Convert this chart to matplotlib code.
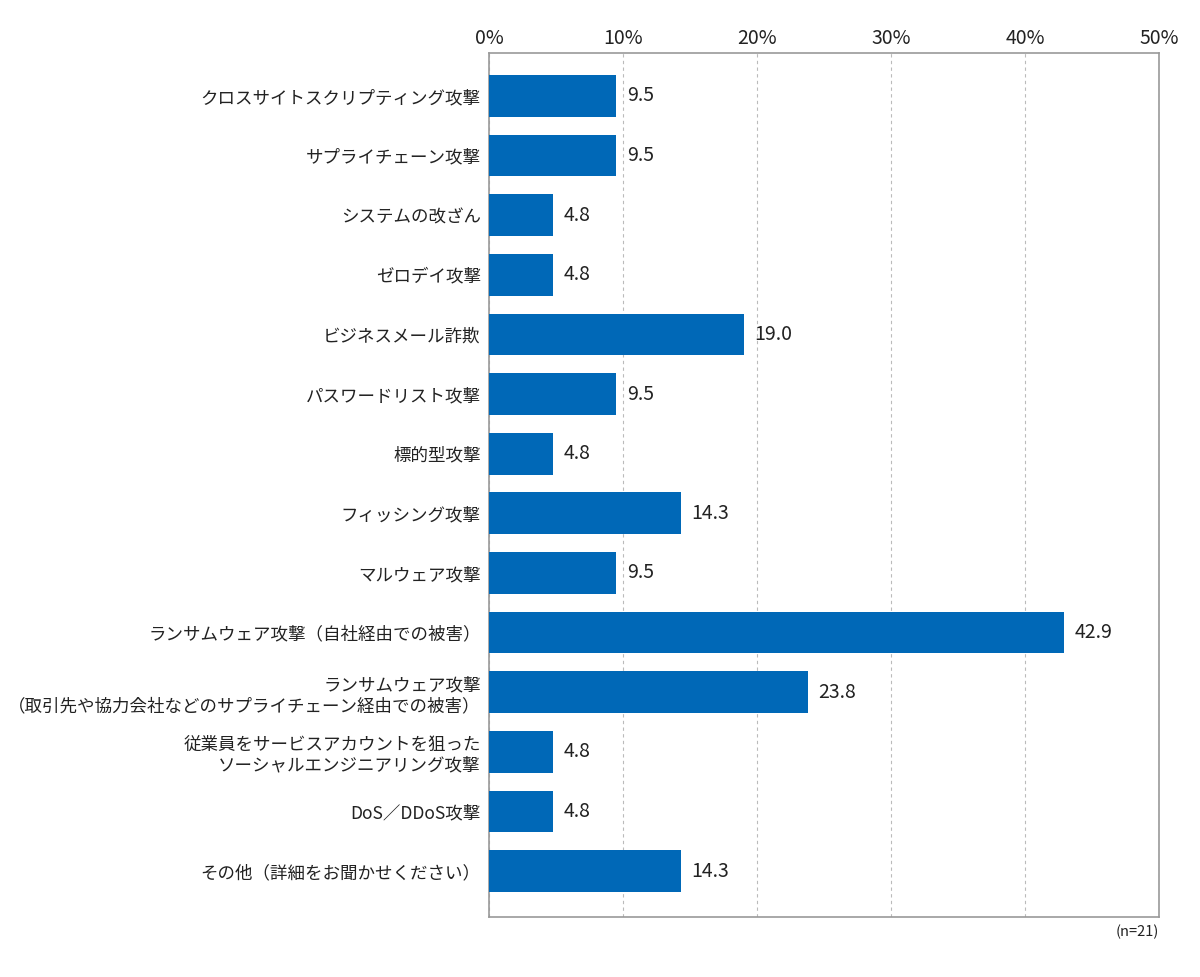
import matplotlib
matplotlib.use("Agg")
import matplotlib.pyplot as plt

plt.rcParams['font.family'] = ['Noto Sans CJK JP', 'DejaVu Sans']

categories = [
    "クロスサイトスクリプティング攻撃",
    "サプライチェーン攻撃",
    "システムの改ざん",
    "ゼロデイ攻撃",
    "ビジネスメール詐欺",
    "パスワードリスト攻撃",
    "標的型攻撃",
    "フィッシング攻撃",
    "マルウェア攻撃",
    "ランサムウェア攻撃（自社経由での被害）",
    "ランサムウェア攻撃\n（取引先や協力会社などのサプライチェーン経由での被害）",
    "従業員をサービスアカウントを狙った\nソーシャルエンジニアリング攻撃",
    "DoS／DDoS攻撃",
    "その他（詳細をお聞かせください）",
]
values = [9.5, 9.5, 4.8, 4.8, 19.0, 9.5, 4.8, 14.3, 9.5, 42.9, 23.8, 4.8, 4.8, 14.3]
xticks = [0, 10, 20, 30, 40, 50]

fig = plt.figure(figsize=(12, 9.77), dpi=100)
ax = fig.add_axes([489/1200, 1 - 917/977, 670/1200, 864/977])

pos = list(range(len(categories)))
ax.barh(pos, values, height=0.7, color='#0068b7', zorder=3)
for p, v in zip(pos, values):
    ax.text(v + 0.8, p, f"{v:.1f}", va='center', ha='left', fontsize=14, color='#222222')

ax.set_xlim(0, 50)
ax.set_ylim(len(categories) - 1 + 0.77, -0.72)
ax.set_yticks(pos)
ax.set_yticklabels(categories, fontsize=12.6, color='#222222', linespacing=1.2)
ax.set_xticks(xticks)
ax.set_xticklabels([f"{t}%" for t in xticks], fontsize=14, color='#222222')
ax.xaxis.tick_top()
ax.tick_params(axis='both', length=0)
ax.tick_params(axis='x', pad=3)
ax.tick_params(axis='y', pad=6)
ax.grid(axis='x', linestyle=(0, (3, 3)), color='#bbbbbb', linewidth=0.8, zorder=0)
for s in ax.spines.values():
    s.set_color('#999999')
    s.set_linewidth(1.2)

fig.text(1159/1200, 1 - 932/977, "(n=21)", ha='right', va='center', fontsize=10.5, color='#222222')

fig.savefig("out.png", dpi=100)
